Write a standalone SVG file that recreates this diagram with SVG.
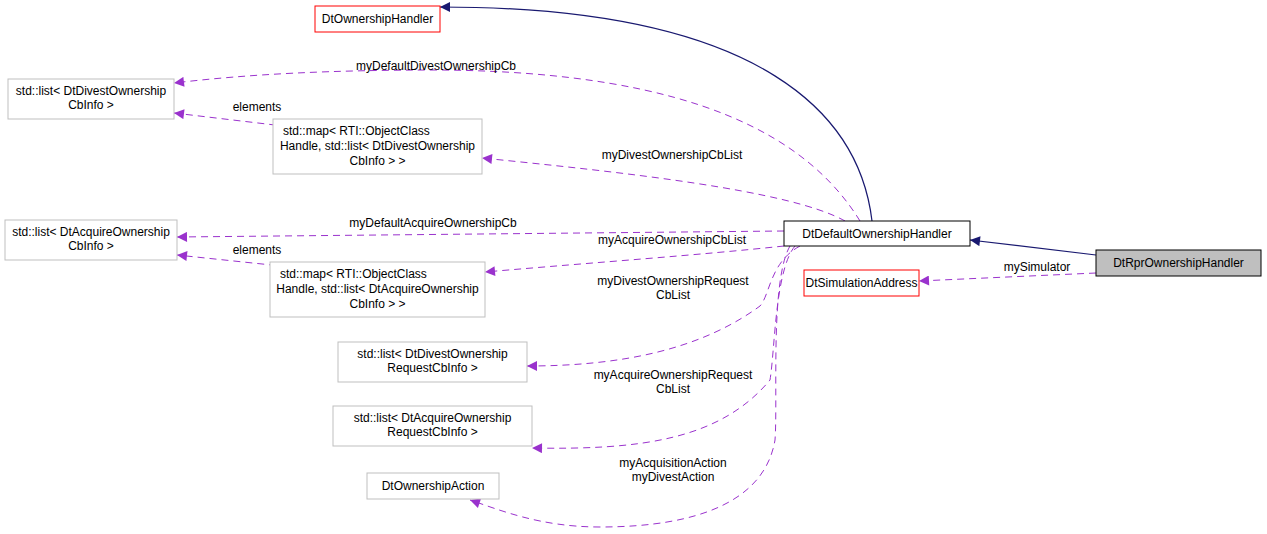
<svg xmlns="http://www.w3.org/2000/svg" width="1267" height="534" viewBox="0 0 1267 534">
<style>
text{font-family:"Liberation Sans",Arial,sans-serif;font-size:12px;fill:#000}
.n rect{fill:#fff;stroke:#bfbfbf;stroke-width:1}
.n.red rect{stroke:#ff0000}
.n.blk rect{stroke:#000}
.n.sel rect{fill:#bfbfbf;stroke:#000}
.d{fill:none;stroke:#9a32cd;stroke-dasharray:7,5;stroke-width:1}
.i{fill:none;stroke:#191970;stroke-width:1.2}
.c{text-anchor:middle}
</style>
<defs>
<marker id="mp" viewBox="0 0 10 10" refX="10" refY="5" markerWidth="14" markerHeight="10" markerUnits="userSpaceOnUse" orient="auto"><path d="M0,0L10,5L0,10z" fill="#9a32cd"/></marker>
<marker id="mi" viewBox="0 0 10 10" refX="10" refY="5" markerWidth="14" markerHeight="10" markerUnits="userSpaceOnUse" orient="auto"><path d="M0,0L10,5L0,10z" fill="#191970"/></marker>
</defs>
<rect width="1267" height="534" fill="#fff"/>
<g id="connectors">
<path class="i" d="M1096,255 L970,240" marker-end="url(#mi)"/>
<path class="i" d="M872,221 C860,120 770,7 440,7" marker-end="url(#mi)"/>
<path class="d" d="M1096,273 L919,281" marker-end="url(#mp)"/>
<path class="d" d="M860,221 C810,140 700,72 440,70 C330,70 250,74 174,83" marker-end="url(#mp)"/>
<path class="d" d="M300,128 L174,113" marker-end="url(#mp)"/>
<path class="d" d="M845,221 C790,190 620,172 482,158" marker-end="url(#mp)"/>
<path class="d" d="M784,231 L177,237" marker-end="url(#mp)"/>
<path class="d" d="M784,246 C700,255 600,262 485,272" marker-end="url(#mp)"/>
<path class="d" d="M300,268 L177,255" marker-end="url(#mp)"/>
<path class="d" d="M800,246 C770,262 770,295 760,306 C700,350 620,366 527,366" marker-end="url(#mp)"/>
<path class="d" d="M795,246 C775,270 775,350 770,380 C720,440 640,450 532,448" marker-end="url(#mp)"/>
<path class="d" d="M790,246 C770,280 778,400 775,440 C765,500 700,527 600,527 C540,527 500,510 470,500" marker-end="url(#mp)"/>
<text x="1037" y="271" class="c">mySimulator</text>
<text x="436" y="70" class="c">myDefaultDivestOwnershipCb</text>
<text x="257" y="111" class="c">elements</text>
<text x="672" y="159" class="c">myDivestOwnershipCbList</text>
<text x="433" y="227" class="c">myDefaultAcquireOwnershipCb</text>
<text x="672" y="244" class="c">myAcquireOwnershipCbList</text>
<text x="257" y="254" class="c">elements</text>
<text x="673" y="285" class="c">myDivestOwnershipRequest</text>
<text x="673" y="299" class="c">CbList</text>
<text x="673" y="379" class="c">myAcquireOwnershipRequest</text>
<text x="673" y="393" class="c">CbList</text>
<text x="673" y="467" class="c">myAcquisitionAction</text>
<text x="673" y="481" class="c">myDivestAction</text>
</g>
<g id="DtOwnershipHandler" class="n red"><rect x="315" y="6" width="125" height="26"/><text x="377.5" y="23" class="c">DtOwnershipHandler</text></g>
<g id="listDivest" class="n"><rect x="8" y="79" width="166" height="40"/><text x="91" y="95" class="c">std::list&lt; DtDivestOwnership</text><text x="91" y="109" class="c">CbInfo &gt;</text></g>
<g id="mapDivest" class="n"><rect x="273" y="119" width="209" height="55"/><text x="283" y="135">std::map&lt; RTI::ObjectClass</text><text x="377.5" y="150" class="c">Handle, std::list&lt; DtDivestOwnership</text><text x="377.5" y="165" class="c">CbInfo &gt; &gt;</text></g>
<g id="listAcquire" class="n"><rect x="5" y="220" width="172" height="40"/><text x="91" y="236" class="c">std::list&lt; DtAcquireOwnership</text><text x="91" y="250" class="c">CbInfo &gt;</text></g>
<g id="mapAcquire" class="n"><rect x="270" y="262" width="215" height="55"/><text x="280" y="278">std::map&lt; RTI::ObjectClass</text><text x="377.5" y="293" class="c">Handle, std::list&lt; DtAcquireOwnership</text><text x="377.5" y="308" class="c">CbInfo &gt; &gt;</text></g>
<g id="listDivReq" class="n"><rect x="338" y="342" width="189" height="40"/><text x="432.5" y="358" class="c">std::list&lt; DtDivestOwnership</text><text x="432.5" y="372" class="c">RequestCbInfo &gt;</text></g>
<g id="listAcqReq" class="n"><rect x="333" y="406" width="199" height="40"/><text x="432.5" y="422" class="c">std::list&lt; DtAcquireOwnership</text><text x="432.5" y="436" class="c">RequestCbInfo &gt;</text></g>
<g id="DtOwnershipAction" class="n"><rect x="367" y="473" width="132" height="26"/><text x="433" y="490" class="c">DtOwnershipAction</text></g>
<g id="DtDefaultOwnershipHandler" class="n blk"><rect x="784" y="221" width="186" height="25"/><text x="877" y="238" class="c">DtDefaultOwnershipHandler</text></g>
<g id="DtSimulationAddress" class="n red"><rect x="804" y="270" width="115" height="26"/><text x="861.5" y="287" class="c">DtSimulationAddress</text></g>
<g id="DtRprOwnershipHandler" class="n sel"><rect x="1096" y="250" width="165" height="26"/><text x="1178.5" y="267" class="c">DtRprOwnershipHandler</text></g>
</svg>
